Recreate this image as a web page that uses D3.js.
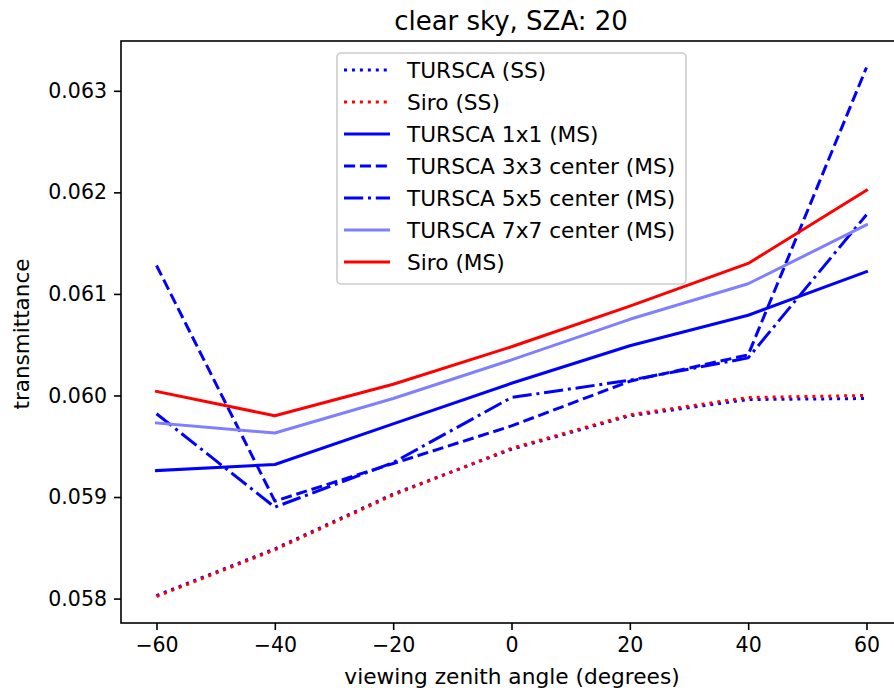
<!DOCTYPE html>
<html>
<head>
<meta charset="utf-8">
<script src="https://cdn.jsdelivr.net/npm/d3@7"></script>
<style>
  body { margin: 0; background: #fff; }
  svg { display: block; font-family: "DejaVu Sans", sans-serif; }
</style>
</head>
<body>
<svg id="chart" width="894" height="694"></svg>
<script>
const angles = [-60, -40, -20, 0, 20, 40, 60];
const turscaSS   = [0.05803, 0.05849, 0.05903, 0.05947, 0.05980, 0.05996, 0.05997];
const siroSS     = [0.05802, 0.05848, 0.05902, 0.05948, 0.05981, 0.05998, 0.06000];
const tursca1x1  = [0.05926, 0.05932, 0.05972, 0.06012, 0.06049, 0.06079, 0.06122];
const tursca3x3  = [0.06128, 0.05896, 0.05933, 0.05970, 0.06014, 0.06040, 0.06323];
const tursca5x5  = [0.05982, 0.05890, 0.05934, 0.05998, 0.06015, 0.06037, 0.06178];
const tursca7x7  = [0.05973, 0.05963, 0.05997, 0.06035, 0.06075, 0.06110, 0.06168];
const siroMS     = [0.06004, 0.05980, 0.06011, 0.06048, 0.06088, 0.06130, 0.06202];
const xTicks = [-60, -40, -20, 0, 20, 40, 60];
const yTicks = [0.058, 0.059, 0.060, 0.061, 0.062, 0.063];
const seriesNames = ["TURSCA (SS)", "Siro (SS)", "TURSCA 1x1 (MS)", "TURSCA 3x3 center (MS)",
                     "TURSCA 5x5 center (MS)", "TURSCA 7x7 center (MS)", "Siro (MS)"];
const titleText = "clear sky, SZA: 20";
const xLabel = "viewing zenith angle (degrees)";
const yLabel = "transmittance";

const lw = 3;
const styles = [
  {color: "#0000ff", dash: [lw*1, lw*1.65]},
  {color: "#ff0000", dash: [lw*1, lw*1.65]},
  {color: "#0000ff", dash: null},
  {color: "#0000ff", dash: [lw*3.7, lw*1.6]},
  {color: "#0000ff", dash: [lw*6.4, lw*1.6, lw*1, lw*1.6]},
  {color: "#8080ff", dash: null},
  {color: "#ff0000", dash: null}
];
const allSeries = [turscaSS, siroSS, tursca1x1, tursca3x3, tursca5x5, tursca7x7, siroMS];

const L = 121, T = 41, R = 902, B = 623;
const svg = d3.select("#chart");

const allVals = allSeries.flat();
const ymin = d3.min(allVals), ymax = d3.max(allVals);
const ypad = (ymax - ymin) * 0.05;
const x = d3.scaleLinear().domain([-66, 66]).range([L, R]);
const y = d3.scaleLinear().domain([ymin - ypad, ymax + ypad]).range([B, T]);

svg.append("defs").append("clipPath").attr("id", "clip")
  .append("rect").attr("x", L).attr("y", T).attr("width", R - L).attr("height", B - T);

const line = d3.line().x((d, i) => x(angles[i])).y(d => y(d));
const g = svg.append("g").attr("clip-path", "url(#clip)");
allSeries.forEach((s, k) => {
  g.append("path").datum(s)
    .attr("d", line)
    .attr("fill", "none")
    .attr("stroke", styles[k].color)
    .attr("stroke-width", lw)
    .attr("stroke-linejoin", "round")
    .attr("stroke-linecap", styles[k].dash ? "butt" : "square")
    .attr("stroke-dasharray", styles[k].dash ? styles[k].dash.join(",") : null);
});

// axes
const xAxis = d3.axisBottom(x).tickValues(xTicks).tickSize(7).tickPadding(7)
  .tickFormat(d => d < 0 ? "\u2212" + Math.abs(d) : d);
const yAxis = d3.axisLeft(y).tickValues(yTicks).tickSize(7).tickPadding(7)
  .tickFormat(d3.format(".3f"));
const gx = svg.append("g").attr("transform", `translate(0,${B})`).call(xAxis);
const gy = svg.append("g").attr("transform", `translate(${L},0)`).call(yAxis);
[gx, gy].forEach(a => {
  a.select(".domain").remove();
  a.selectAll(".tick line").attr("stroke", "#000").attr("stroke-width", 1.6);
  a.selectAll(".tick text").attr("fill", "#000").style("font-size", "20.5px")
    .style("font-family", "DejaVu Sans, sans-serif");
});

// spines
svg.append("rect").attr("x", L).attr("y", T).attr("width", R - L).attr("height", B - T)
  .attr("fill", "none").attr("stroke", "#000").attr("stroke-width", 1.6);

// labels
svg.append("text").attr("x", 511).attr("y", 30).attr("text-anchor", "middle")
  .style("font-size", "26px").text(titleText);
svg.append("text").attr("x", 512).attr("y", 684).attr("text-anchor", "middle")
  .style("font-size", "21.7px").text(xLabel);
svg.append("text").attr("transform", "translate(29,334) rotate(-90)").attr("text-anchor", "middle")
  .style("font-size", "21.5px").text(yLabel);

// legend
const lg = svg.append("g");
lg.append("rect").attr("x", 337).attr("y", 53).attr("width", 349).attr("height", 231)
  .attr("rx", 4).attr("fill", "#fff").attr("fill-opacity", 0.8)
  .attr("stroke", "#cccccc").attr("stroke-width", 1.6);
seriesNames.forEach((name, k) => {
  const yy = 70 + k * 32;
  lg.append("line").attr("x1", 344).attr("x2", 390).attr("y1", yy).attr("y2", yy)
    .attr("stroke", styles[k].color).attr("stroke-width", lw)
    .attr("stroke-dasharray", styles[k].dash ? styles[k].dash.join(",") : null);
  lg.append("text").attr("x", 407).attr("y", yy).attr("dy", "0.35em")
    .style("font-size", "21.7px").text(name);
});
</script>
</body>
</html>
